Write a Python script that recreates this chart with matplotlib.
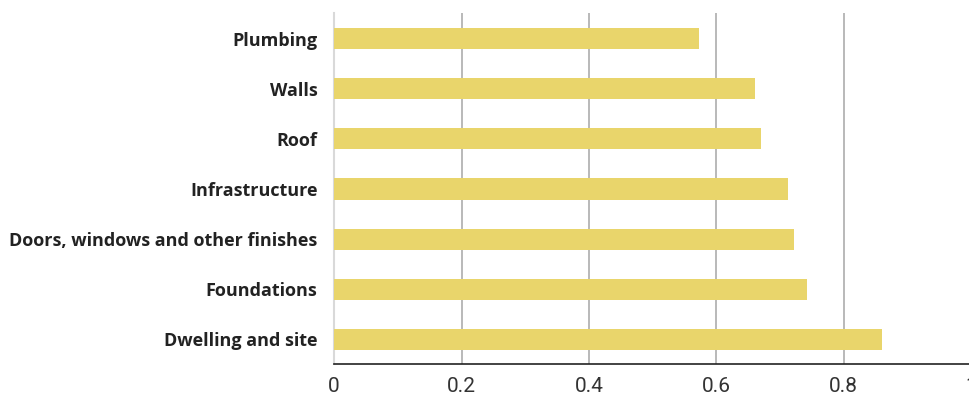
import matplotlib
matplotlib.use("Agg")
import matplotlib.pyplot as plt

# categorias de baixo para cima
categorias = ["Dwelling and site", "Foundations", "Doors, windows and other finishes",
              "Infrastructure", "Roof", "Walls", "Plumbing"]
valores = [0.860, 0.742, 0.722, 0.712, 0.670, 0.661, 0.573]
ticks_x = [0, 0.2, 0.4, 0.6, 0.8, 1]
rotulos_x = ["0", "0.2", "0.4", "0.6", "0.8", "1"]

fig = plt.figure(figsize=(9.69, 3.97), dpi=100)
ax = fig.add_axes([334.1 / 969, 1 - 364 / 397, 637 / 969, 351 / 397])

ax.barh(range(len(categorias)), valores, height=0.42, color="#e9d56b", zorder=3)

ax.set_xlim(0, 1)
ax.set_ylim(-0.49, 6.51)
ax.set_xticks(ticks_x)
ax.set_xticklabels(rotulos_x, fontsize=15, color="#333333", family="Roboto")
ax.set_yticks(range(len(categorias)))
ax.set_yticklabels(categorias, fontsize=13, fontweight="bold", color="#222222", family="Open Sans")

# grade vertical
for x in ticks_x[1:]:
    ax.axvline(x, color="#b3b3b3", linewidth=1.3, zorder=1)

for lado in ["top", "right"]:
    ax.spines[lado].set_visible(False)
ax.spines["left"].set_color("#d9d9d9")
ax.spines["left"].set_linewidth(1.5)
ax.spines["bottom"].set_color("#222222")
ax.spines["bottom"].set_linewidth(1.2)

ax.tick_params(axis="both", length=0)
ax.tick_params(axis="x", pad=9)
ax.tick_params(axis="y", pad=12)

fig.savefig("out.png", dpi=100)
